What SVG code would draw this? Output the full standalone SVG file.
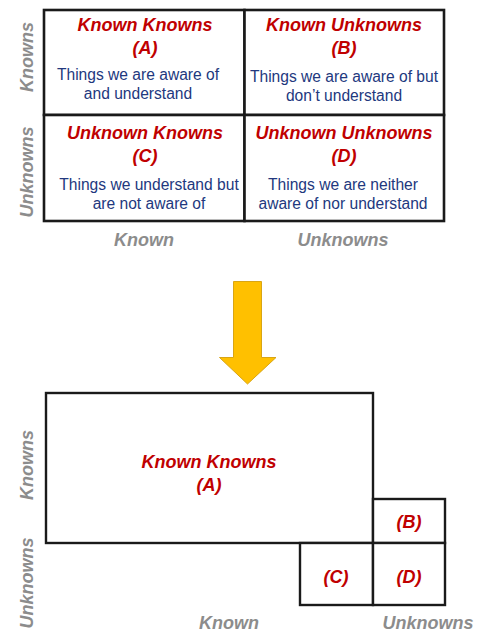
<svg xmlns="http://www.w3.org/2000/svg" width="479" height="635" viewBox="0 0 479 635">
  <style>
    .title { font-family: "Liberation Sans", Arial, sans-serif; font-size: 18px; font-weight: bold; font-style: italic; fill: #C00000; text-anchor: middle; }
    .body { font-family: "Liberation Sans", Arial, sans-serif; font-size: 15.6px; fill: #22387E; text-anchor: middle; }
    .axis { font-family: "Liberation Sans", Arial, sans-serif; font-size: 18px; font-weight: bold; font-style: italic; fill: #8C8C8C; text-anchor: middle; }
    .box { fill: #FFFFFF; stroke: #1A1A1A; stroke-width: 2.6; }
    .box2 { fill: #FFFFFF; stroke: #1A1A1A; stroke-width: 2.4; }
  </style>
  <rect width="479" height="635" fill="#FFFFFF"/>

  <!-- 2x2 matrix -->
  <g id="cell-a">
    <rect class="box" x="44" y="10" width="200.5" height="105"/>
    <text class="title" x="145" y="31">Known Knowns</text>
    <text class="title" x="145" y="54">(A)</text>
    <text class="body" x="138" y="80">Things we are aware of</text>
    <text class="body" x="138" y="99">and understand</text>
  </g>
  <g id="cell-b">
    <rect class="box" x="244.5" y="10" width="199.5" height="105"/>
    <text class="title" x="344" y="31">Known Unknowns</text>
    <text class="title" x="344" y="54">(B)</text>
    <text class="body" x="344" y="82">Things we are aware of but</text>
    <text class="body" x="344" y="101">don’t understand</text>
  </g>
  <g id="cell-c">
    <rect class="box" x="44" y="115" width="200.5" height="106"/>
    <text class="title" x="145" y="139">Unknown Knowns</text>
    <text class="title" x="145" y="162">(C)</text>
    <text class="body" x="149" y="190">Things we understand but</text>
    <text class="body" x="149" y="209">are not aware of</text>
  </g>
  <g id="cell-d">
    <rect class="box" x="244.5" y="115" width="199.5" height="106"/>
    <text class="title" x="344" y="139">Unknown Unknowns</text>
    <text class="title" x="344" y="162">(D)</text>
    <text class="body" x="343" y="190">Things we are neither</text>
    <text class="body" x="343" y="209">aware of nor understand</text>
  </g>

  <!-- matrix axis labels -->
  <g id="axis-top">
    <text class="axis" transform="translate(33,57) rotate(-90)">Knowns</text>
    <text class="axis" transform="translate(33,172) rotate(-90)">Unknowns</text>
    <text class="axis" x="144" y="246">Known</text>
    <text class="axis" x="343" y="246">Unknowns</text>
  </g>

  <!-- downward arrow -->
  <g id="connectors">
    <path d="M233.5,281.5 H261.5 V357.5 H276 L247.5,384 L219.5,357.5 H233.5 Z" fill="#FFC000" stroke="#D9A514" stroke-width="1"/>
  </g>

  <!-- resized quadrants -->
  <g id="area-a">
    <rect class="box2" x="46" y="393" width="327" height="150"/>
    <text class="title" x="209" y="468">Known Knowns</text>
    <text class="title" x="209" y="491">(A)</text>
  </g>
  <g id="area-b">
    <rect class="box2" x="373" y="499" width="72" height="44"/>
    <text class="title" x="409" y="528">(B)</text>
  </g>
  <g id="area-c">
    <rect class="box2" x="300" y="543" width="73" height="62"/>
    <text class="title" x="336" y="583">(C)</text>
  </g>
  <g id="area-d">
    <rect class="box2" x="373" y="543" width="72" height="62"/>
    <text class="title" x="409" y="583">(D)</text>
  </g>

  <g id="axis-bottom">
    <text class="axis" transform="translate(33,465) rotate(-90)">Knowns</text>
    <text class="axis" transform="translate(33,583) rotate(-90)">Unknowns</text>
    <text class="axis" x="229" y="629">Known</text>
    <text class="axis" x="428" y="629">Unknowns</text>
  </g>
</svg>
